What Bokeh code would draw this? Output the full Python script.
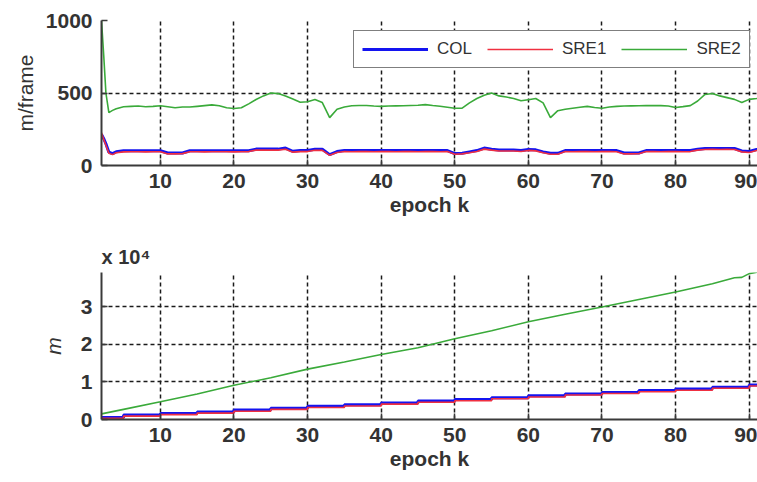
from bokeh.plotting import figure
from bokeh.layouts import column
from bokeh.models import Range1d, FixedTicker, Legend, LegendItem
from bokeh.embed import file_html
from bokeh.resources import INLINE

# ---------------- data ----------------
K_TOP = [2, 2.3, 2.6, 3, 3.5] + list(range(4, 93))

SRE2_FRAME = [1000, 760, 500, 365, 380,
              392, 405, 408, 410, 405, 408, 412, 405, 398, 403,
              403, 408, 413, 418, 412, 398, 393, 398, 425, 455,
              480, 500, 496, 480, 458, 436, 440, 455, 434, 330,
              388, 404, 412, 414, 414, 410, 408, 410, 411, 412,
              414, 416, 420, 414, 409, 402, 395, 396, 432, 462,
              485, 500, 480, 472, 462, 446, 454, 462, 432, 330,
              378, 388, 395, 402, 408, 400, 395, 403, 408, 410,
              411, 412, 413, 413, 413, 410, 400, 406, 413, 445,
              490, 496, 480, 468, 456, 434, 456, 462, 470]

COL_FRAME = [215, 185, 150, 92, 82,
             95, 102, 102, 102, 102, 102, 102, 86, 86, 86,
             102, 102, 102, 102, 102, 102, 102, 102, 102, 113,
             113, 113, 113, 120, 98, 103, 103, 112, 112, 75,
             96, 103, 103, 103, 103, 103, 103, 103, 103, 103,
             103, 103, 103, 103, 103, 103, 82, 85, 94, 103,
             120, 112, 107, 107, 107, 104, 110, 108, 94, 84,
             84, 103, 103, 103, 103, 103, 103, 103, 103, 86,
             86, 86, 103, 103, 103, 103, 103, 103, 103, 112,
             117, 117, 117, 117, 117, 100, 97, 110, 110]

SRE1_FRAME = [225, 180, 140, 85, 75,
              88, 94, 95, 95, 94, 95, 95, 80, 80, 82,
              95, 95, 94, 95, 95, 95, 94, 95, 96, 106,
              106, 107, 106, 112, 92, 96, 96, 105, 104, 70,
              90, 96, 95, 96, 96, 95, 96, 96, 95, 96,
              96, 95, 96, 96, 95, 96, 78, 80, 88, 97,
              113, 106, 100, 100, 100, 97, 104, 101, 88, 78,
              78, 96, 95, 96, 96, 95, 96, 96, 95, 80,
              80, 81, 96, 96, 95, 96, 96, 95, 96, 106,
              110, 111, 110, 111, 110, 94, 90, 103, 104]

K_STEP = [2, 5, 10, 15, 20, 25, 30, 35, 40, 45, 50, 55, 60, 65, 70, 75, 80, 85, 90, 92]
COL_CUM = [500, 1200, 1600, 2000, 2500, 3000, 3500, 3900, 4400, 4900,
           5300, 5800, 6300, 6800, 7200, 7700, 8100, 8600, 9200, 9500]
SRE1_CUM = [300, 900, 1300, 1700, 2200, 2700, 3200, 3600, 4100, 4600,
            5000, 5500, 6000, 6500, 6900, 7400, 7800, 8300, 8900, 9200]

K_GREEN = [2, 5, 10, 15, 20, 25, 30, 35, 40, 45, 50, 55, 60, 65, 70, 75, 80, 85, 88, 89, 90, 92]
SRE2_CUM = [1500, 2700, 4700, 6800, 9100, 11100, 13400, 15300, 17300, 19100, 21500,
            23600, 26000, 28000, 29900, 31900, 33900, 36100, 37700, 37800, 38800, 39500]

X_TICKS = [10, 20, 30, 40, 50, 60, 70, 80, 90]
Y_TICKS_TOP = [0, 500, 1000]
Y_TICKS_BOT = [0, 10000, 20000, 30000]
Y_LABELS_BOT = {0: "0", 10000: "1", 20000: "2", 30000: "3"}

SERIES = ["COL", "SRE1", "SRE2"]
COLORS = {"COL": "#1414f0", "SRE1": "#f03040", "SRE2": "#3aaa3a"}

FONT = "Liberation Sans"
TXT = "#333333"


def style(p):
    p.outline_line_color = None
    p.background_fill_color = "white"
    p.border_fill_color = "white"
    for ax in (p.xaxis[0], p.yaxis[0]):
        ax.axis_line_color = "#3a3a3a"
        ax.axis_line_width = 2
        ax.major_tick_line_color = "#3a3a3a"
        ax.major_tick_line_width = 1.5
        ax.major_tick_in = 6
        ax.major_tick_out = 0
        ax.minor_tick_line_color = None
        ax.major_label_text_font = FONT
        ax.major_label_text_font_size = "21px"
        ax.major_label_text_font_style = "bold"
        ax.major_label_text_color = TXT
        ax.axis_label_text_font = FONT
        ax.axis_label_text_font_size = "21px"
        ax.axis_label_text_color = TXT
    p.xaxis.major_label_standoff = 8
    p.yaxis.major_label_standoff = 9
    p.xaxis.ticker = FixedTicker(ticks=X_TICKS)
    p.xaxis.axis_label = "epoch k"
    p.xaxis.axis_label_text_font_style = "bold"
    p.xaxis.axis_label_standoff = 2
    for g in (p.xgrid[0], p.ygrid[0]):
        g.grid_line_color = "#1a1a1a"
        g.grid_line_width = 1.5
        g.grid_line_dash = "4 3"


# ---------------- top figure ----------------
p1 = figure(width=757, height=225, x_range=Range1d(2, 91.13), y_range=Range1d(0, 1000),
            output_backend="svg", toolbar_location=None,
            min_border_left=101, min_border_right=0, min_border_top=20, min_border_bottom=60)
style(p1)
p1.yaxis.ticker = FixedTicker(ticks=Y_TICKS_TOP)
p1.xgrid.ticker = FixedTicker(ticks=X_TICKS)
p1.ygrid.ticker = FixedTicker(ticks=Y_TICKS_TOP)
p1.yaxis.axis_label = "m/frame"
p1.yaxis.axis_label_text_font_style = "normal"
p1.yaxis.axis_label_standoff = 6

r_g = p1.line(K_TOP, SRE2_FRAME, line_color=COLORS["SRE2"], line_width=1.6)
r_b = p1.line(K_TOP, COL_FRAME, line_color=COLORS["COL"], line_width=3)
r_r = p1.line(K_TOP, SRE1_FRAME, line_color=COLORS["SRE1"], line_width=1.6)

legend = Legend(items=[LegendItem(label=SERIES[0], renderers=[r_b]),
                       LegendItem(label=SERIES[1], renderers=[r_r]),
                       LegendItem(label=SERIES[2], renderers=[r_g])],
                location=(252, 97), orientation="horizontal",
                glyph_width=66, glyph_height=20, label_height=20, label_standoff=9,
                spacing=15, padding=8, margin=0, label_text_font=FONT,
                label_text_font_size="17px", label_text_color=TXT,
                border_line_color="black", border_line_width=1.5,
                background_fill_color="white", background_fill_alpha=1.0)
p1.add_layout(legend)

# ---------------- bottom figure ----------------
p2 = figure(width=757, height=257, x_range=Range1d(2, 91.13), y_range=Range1d(0, 39100),
            output_backend="svg", toolbar_location=None,
            min_border_left=101, min_border_right=0, min_border_top=47, min_border_bottom=63)
style(p2)
p2.yaxis.ticker = FixedTicker(ticks=Y_TICKS_BOT)
p2.yaxis.major_label_overrides = Y_LABELS_BOT
p2.xgrid.ticker = FixedTicker(ticks=X_TICKS)
p2.ygrid.ticker = FixedTicker(ticks=Y_TICKS_BOT)
p2.yaxis.axis_label = "m"
p2.yaxis.axis_label_text_font_style = "italic"
p2.yaxis.axis_label_standoff = 13

p2.title.text = "x 10\u2074"
p2.title.align = "left"
p2.title.text_font = FONT
p2.title.text_font_size = "20px"
p2.title.text_font_style = "bold"
p2.title.text_color = TXT
p2.title.standoff = 10

p2.line(K_GREEN, SRE2_CUM, line_color=COLORS["SRE2"], line_width=1.6)
p2.step(K_STEP, COL_CUM, mode="after", line_color=COLORS["COL"], line_width=3)
p2.step(K_STEP, SRE1_CUM, mode="after", line_color=COLORS["SRE1"], line_width=1.6)

layout = column(p1, p2, spacing=0)
open("out.html", "w").write(file_html(layout, INLINE))
